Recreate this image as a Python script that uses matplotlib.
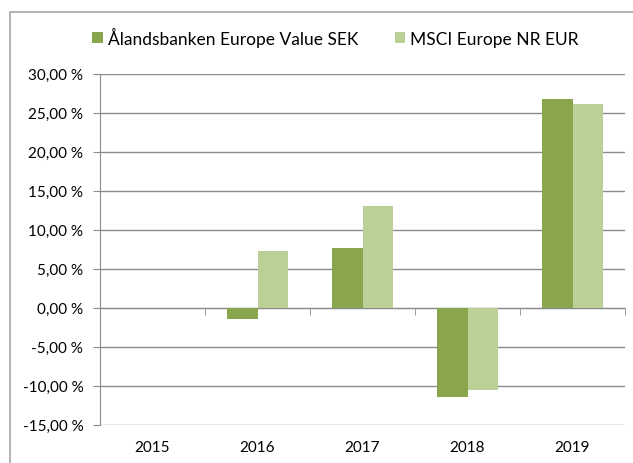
import numpy as np
import matplotlib.pyplot as plt
from matplotlib.ticker import FuncFormatter, MultipleLocator
from matplotlib.patches import Rectangle

plt.rcParams['font.family'] = ['Lato', 'DejaVu Sans']

# Data
years = ['2015', '2016', '2017', '2018', '2019']
alandsbanken = [np.nan, -1.5, 7.6, -11.4, 26.8]
msci = [np.nan, 7.3, 13.1, -10.5, 26.1]

dark_green = '#8aa64d'
light_green = '#bbd097'
grid_grey = '#8c8c8c'

fig = plt.figure(figsize=(6.33, 4.64), dpi=100)

# Outer chart frame (runs off right and bottom, like the crop)
fig.patches.append(Rectangle((10 / 633, -0.05), 1.2, 0.05 + 451 / 464,
                             transform=fig.transFigure, fill=False,
                             edgecolor='#a6a6a6', linewidth=1.2))

ax = fig.add_axes([100 / 633, 1 - 425.7 / 464, 525 / 633, (425.7 - 74.7) / 464])

x = np.arange(len(years))
w = 0.286
ax.bar(x - w / 2, alandsbanken, width=w, color=dark_green,
       label='Ålandsbanken Europe Value SEK', zorder=3)
ax.bar(x + w / 2, msci, width=w, color=light_green,
       label='MSCI Europe NR EUR', zorder=3)

ax.set_xlim(-0.5, len(years) - 0.5)
ax.set_ylim(-15, 30)
ax.yaxis.set_major_locator(MultipleLocator(5))
ax.yaxis.set_major_formatter(FuncFormatter(lambda v, p: f'{v:.2f} %'.replace('.', ',')))
ax.grid(axis='y', color=grid_grey, linewidth=1, zorder=0)

# Category axis sits on zero with boundary ticks; labels at the bottom
for s in ['top', 'right']:
    ax.spines[s].set_visible(False)
ax.spines['left'].set_color(grid_grey)
ax.spines['bottom'].set_position(('data', 0))
ax.spines['bottom'].set_color(grid_grey)
ax.spines['bottom'].set_zorder(2)
ax.set_xticks(x)
ax.set_xticklabels([])
ax.tick_params(axis='x', which='major', length=0)
ax.set_xticks(np.arange(len(years) + 1) - 0.5, minor=True)
ax.tick_params(axis='x', which='minor', length=5, color=grid_grey, direction='out')
ax.tick_params(axis='y', length=5, color=grid_grey, pad=7, labelsize=11, labelcolor='black')

sec = ax.secondary_xaxis(0)
sec.set_xticks(x)
sec.set_xticklabels(years)
sec.tick_params(length=0, pad=11, labelsize=11)
sec.spines['bottom'].set_visible(False)

fig.legend(loc='center', bbox_to_anchor=(0.530, 0.918), ncol=2, frameon=False,
           fontsize=12.5, handlelength=0.6, handleheight=0.6, handletextpad=0.3,
           columnspacing=2.1)

fig.savefig('out.png', dpi=100)
